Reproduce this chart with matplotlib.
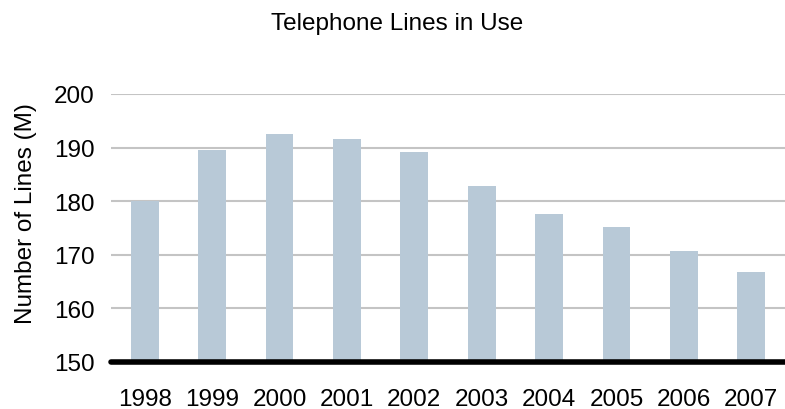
import matplotlib.pyplot as plt

years = ["1998", "1999", "2000", "2001", "2002", "2003", "2004", "2005", "2006", "2007"]
lines_m = [180.0, 189.6, 192.6, 191.6, 189.2, 182.8, 177.6, 175.1, 170.7, 166.8]
y_ticks = [150, 160, 170, 180, 190, 200]

plt.rcParams["font.family"] = ["Liberation Sans", "DejaVu Sans"]

fig = plt.figure(figsize=(7.85, 4.10), dpi=100)
ax = fig.add_axes([111 / 785, 1 - 363 / 410, 674 / 785, 268 / 410])

x = range(len(years))
ax.bar(x, [v - 150 for v in lines_m], bottom=150, width=0.41, color="#b8c9d7", zorder=2)

ax.set_xlim(-0.5, len(years) - 0.5)
ax.set_ylim(150, 200)
ax.set_yticks(y_ticks)
ax.set_xticks(list(x))
ax.set_xticklabels(years)

ax.grid(axis="y", color="#c4c4c4", linewidth=1.5, zorder=0)
for side in ["top", "right", "left"]:
    ax.spines[side].set_visible(False)
ax.spines["bottom"].set_linewidth(4)
ax.spines["bottom"].set_color("black")
ax.spines["bottom"].set_zorder(3)
ax.spines["bottom"].set_capstyle("round")

ax.tick_params(axis="both", length=0, labelsize=17.5)
ax.tick_params(axis="x", pad=19)
ax.tick_params(axis="y", pad=12)

ax.set_ylabel("Number of Lines (M)", fontsize=17.5)
ax.yaxis.set_label_coords(-0.11, 0.556)
fig.text(0.506, 0.941, "Telephone Lines in Use", ha="center", va="center", fontsize=17.5)

fig.savefig("out.png", dpi=100)
